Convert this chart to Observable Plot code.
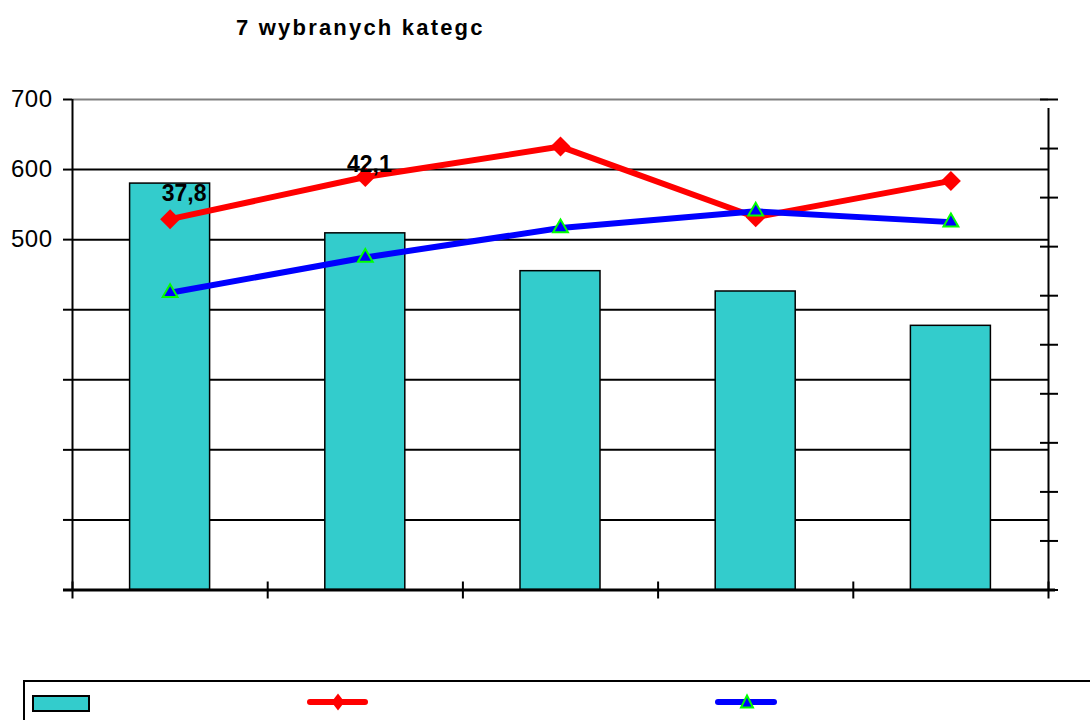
<!DOCTYPE html>
<html><head><meta charset="utf-8">
<script src="https://cdn.jsdelivr.net/npm/d3@7"></script>
<script src="https://cdn.jsdelivr.net/npm/@observablehq/plot@0.6"></script>
<style>
html,body{margin:0;padding:0;background:#fff;}
#wrap{position:relative;width:1090px;height:720px;overflow:hidden;font-family:"Liberation Sans",Arial,sans-serif;}
#title{position:absolute;left:236px;top:17px;font-size:22px;font-weight:bold;letter-spacing:2.2px;white-space:nowrap;line-height:22px;color:#000;}
#chart{position:absolute;left:0;top:60px;}
#legend{position:absolute;left:23px;top:680px;width:1120px;height:60px;border:2px solid #000;box-sizing:border-box;background:#fff;}
#legend svg{position:absolute;left:-2px;top:-2px;}
g[aria-label="data label"] text{letter-spacing:1.5px;}
g[aria-label="y-axis tick label"] text{letter-spacing:0.5px;}
</style></head><body>
<div id="wrap">
<div id="title">7 wybranych kategc</div>
<div id="chart"></div>
<div id="legend">
<svg width="1100" height="60">
<rect x="10" y="16" width="56" height="15" fill="#33CCCC" stroke="#000" stroke-width="2"/>
<line x1="287" y1="22" x2="342" y2="22" stroke="#FF0000" stroke-width="6" stroke-linecap="round"/>
<polygon points="315,13.5 321.5,22 315,30.5 308.5,22" fill="#FF0000"/>
<line x1="695" y1="22" x2="751" y2="22" stroke="#0000FF" stroke-width="6" stroke-linecap="round"/>
<polygon points="724,15.5 730,27.5 718,27.5" fill="#0000FF" stroke="#00FF00" stroke-width="2"/>
</svg>
</div>
</div>
<script>
// ---- data ----
const categories = ["Kategoria 1", "Kategoria 2", "Kategoria 3", "Kategoria 4", "Kategoria 5"];
const barValues = [580, 509, 455, 426, 377];
const redValues = [37.8, 42.1, 45.2, 38.0, 41.7];
const blueValues = [30.3, 33.9, 36.9, 38.6, 37.5];
const leftTicks = [0, 100, 200, 300, 400, 500, 600, 700];
const leftTickLabels = ["", "", "", "", "", "500", "600", "700"];
const rightTicks = [0, 5, 10, 15, 20, 25, 30, 35, 40, 45, 50];
const labelTexts = ["37,8", "42,1"];

// ---- derived tables ----
const leftMax = 700, rightMax = 50, k = leftMax / rightMax;
const rows = categories.map((c, i) => ({
  c, i, bar: barValues[i], red: redValues[i] * k, blue: blueValues[i] * k
}));
const labels = labelTexts.map((t, i) => ({t, i, y: redValues[i] * k}));
const gridTicks = leftTicks.filter(v => v > 0 && v < leftMax);
const boundaries = d3.range(categories.length + 1);

const plot = Plot.plot({
  width: 1090,
  height: 600,
  marginTop: 39,
  marginBottom: 70.5,
  marginLeft: 72,
  marginRight: 42,
  x: {type: "linear", domain: [0, categories.length], axis: null},
  y: {domain: [0, leftMax], axis: null},
  style: {fontFamily: "'Liberation Sans', Arial, sans-serif", fontSize: "22px", background: "#fff", overflow: "visible", color: "#000"},
  marks: [
    // gridlines
    Plot.ruleY(gridTicks, {stroke: "#000", strokeWidth: 2}),
    Plot.ruleY([leftMax], {stroke: "#808080", strokeWidth: 2}),
    // bars
    Plot.rectY(rows, {x1: d => d.i, x2: d => d.i + 1, y1: 0, y2: "bar", fill: "#33CCCC", stroke: "#000", strokeWidth: 1.5, insetLeft: 57.6, insetRight: 57.6}),
    // axes lines
    Plot.ruleX([0], {y1: 0, y2: leftMax, stroke: "#000", strokeWidth: 2}),
    Plot.ruleX([categories.length], {y1: 0, y2: leftMax, insetBottom: -9, stroke: "#000", strokeWidth: 2}),
    Plot.ruleY([0], {stroke: "#000", strokeWidth: 3, insetLeft: -9, insetRight: -7}),
    // category boundary ticks
    Plot.ruleX(boundaries, {y1: 0, y2: 0, insetTop: -8, insetBottom: -9, stroke: "#000", strokeWidth: 2}),
    // left axis
    Plot.axisY({anchor: "left", ticks: leftTicks, tickSize: 9, tickPadding: 11, strokeWidth: 2,
      tickFormat: v => leftTickLabels[leftTicks.indexOf(v)], label: null, fontSize: 24}),
    // right (secondary) axis
    Plot.axisY({anchor: "right", ticks: rightTicks.map(v => v * k), tickSize: 18, dx: -9, strokeWidth: 2,
      tickFormat: () => "", label: null}),
    // red series
    Plot.lineY(rows, {x: d => d.i + 0.5, y: "red", stroke: "#FF0000", strokeWidth: 6}),
    Plot.dot(rows, {x: d => d.i + 0.5, y: "red", symbol: "diamond2", r: 9, fill: "#FF0000"}),
    // blue series
    Plot.lineY(rows, {x: d => d.i + 0.5, y: "blue", stroke: "#0000FF", strokeWidth: 6}),
    Plot.dot(rows, {x: d => d.i + 0.5, y: "blue", symbol: "triangle", r: 5.5, fill: "#0000FF", stroke: "#00FF00", strokeWidth: 2}),
    // data labels
    Plot.text(labels.filter(d => d.i === 0), {x: d => d.i + 0.5, y: "y", text: "t", dx: 14, dy: -26, fontWeight: "bold", fontSize: 23, fill: "#000", ariaLabel: "data label"}),
    Plot.text(labels.filter(d => d.i === 1), {x: d => d.i + 0.5, y: "y", text: "t", dx: 4, dy: -12, fontWeight: "bold", fontSize: 23, fill: "#000", ariaLabel: "data label"})
  ]
});
document.getElementById("chart").appendChild(plot);
</script>
</body></html>
